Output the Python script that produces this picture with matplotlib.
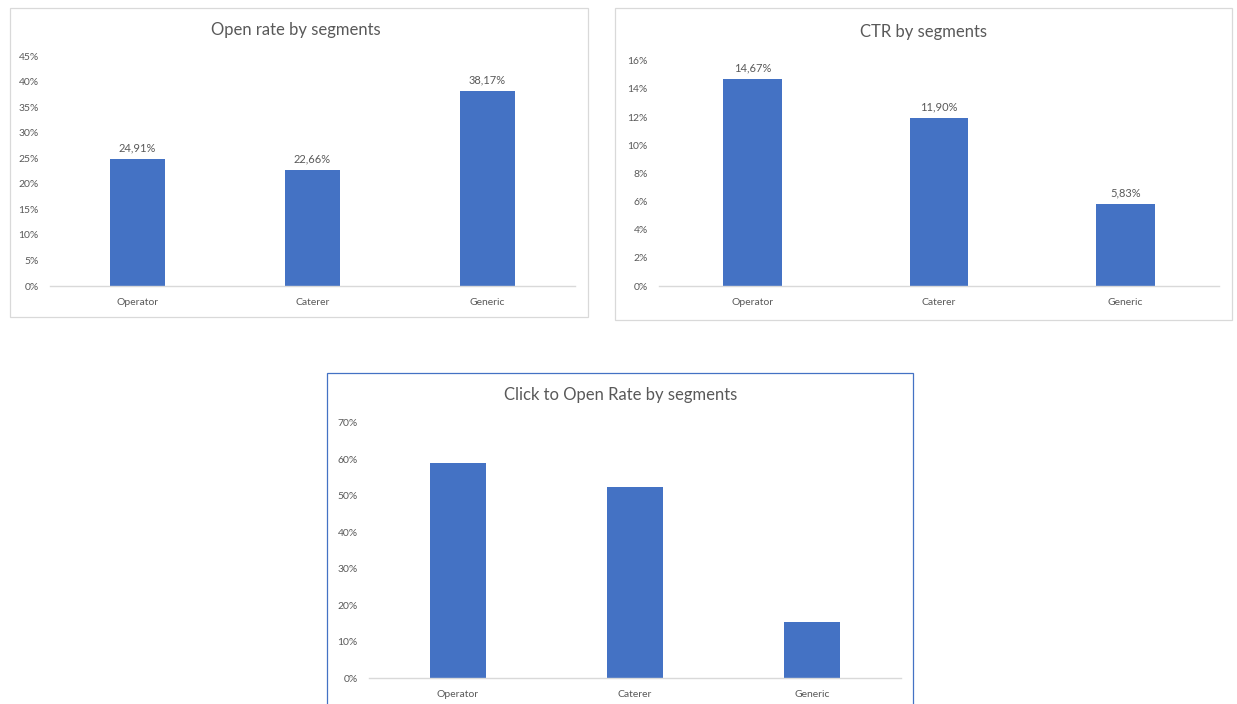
import matplotlib
matplotlib.use("Agg")
import matplotlib.pyplot as plt
from matplotlib.patches import Rectangle
from matplotlib.ticker import FuncFormatter, MultipleLocator

# data (percent)
segments = ["Operator", "Caterer", "Generic"]
open_rate = [24.91, 22.66, 38.17]
ctr = [14.67, 11.90, 5.83]
ctor = [58.9, 52.5, 15.3]

W, H = 1237, 704
BAR = "#4472C4"
TXT = "#595959"
GRID = "#D9D9D9"

plt.rcParams["font.family"] = ["Lato", "DejaVu Sans"]

fig = plt.figure(figsize=(W / 100, H / 100), dpi=100)
fig.patch.set_facecolor("white")


def fx(px):
    return px / W


def fy(py):
    return 1 - py / H


def box(x0, y0, x1, y1, color):
    fig.patches.append(Rectangle((fx(x0), fy(y1)), fx(x1) - fx(x0), fy(y0) - fy(y1),
                                 transform=fig.transFigure, fill=False,
                                 edgecolor=color, linewidth=0.9))


def chart(px_left, px_right, py_zero, py_top, ymax, step, values, title, title_xy, labels=True):
    ax = fig.add_axes([fx(px_left), fy(py_zero), fx(px_right) - fx(px_left), fy(py_top) - fy(py_zero)])
    x = range(len(segments))
    ax.bar(x, values, width=0.315, color=BAR, zorder=2)
    ax.set_xlim(-0.5, len(segments) - 0.5)
    ax.set_ylim(0, ymax)
    ax.yaxis.set_major_locator(MultipleLocator(step))
    ax.yaxis.set_major_formatter(FuncFormatter(lambda v, p: f"{v:.0f}%"))
    ax.set_xticks(list(x))
    ax.set_xticklabels(segments)
    for s in ["top", "right", "left"]:
        ax.spines[s].set_visible(False)
    ax.spines["bottom"].set_color(GRID)
    ax.spines["bottom"].set_linewidth(1.0)
    ax.tick_params(axis="y", length=0, pad=8, labelsize=7.5, labelcolor=TXT)
    ax.tick_params(axis="x", length=0, pad=8.5, labelsize=7.5, labelcolor=TXT)
    ax.patch.set_alpha(0)
    if labels:
        for i, v in enumerate(values):
            ax.annotate(f"{v:.2f}".replace(".", ",") + "%", (i, v), xytext=(0, 4),
                        textcoords="offset points", ha="center", va="bottom",
                        fontsize=8, color=TXT)
    fig.text(fx(title_xy[0]), fy(title_xy[1]), title, ha="center", va="center",
             fontsize=12, color=TXT)
    return ax


# chart frames
box(10, 8, 588, 317, GRID)
box(615, 8, 1232, 320, GRID)
box(327, 373, 913, 710, BAR)

chart(50, 575, 286, 56, 45, 5, open_rate, "Open rate by segments", (296, 30))
chart(659, 1219, 286, 60.7, 16, 2, ctr, "CTR by segments", (924, 32))
chart(369, 901, 678, 423, 70, 10, ctor, "Click to Open Rate by segments", (621, 395), labels=False)

fig.savefig("out.png", dpi=100, facecolor="white")
